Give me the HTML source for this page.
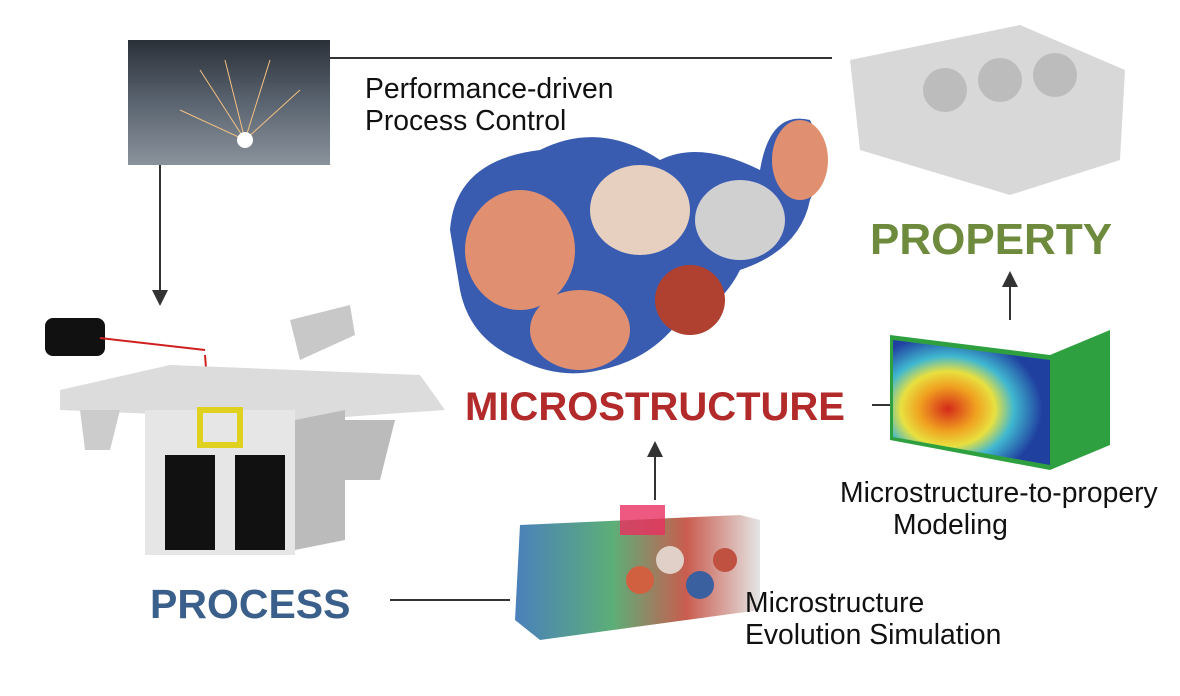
<!DOCTYPE html>
<html><head><meta charset="utf-8"><style>
body{margin:0;width:1180px;height:696px;background:#fff;position:relative;overflow:hidden;font-family:"Liberation Sans",Arial,sans-serif}
.t{position:absolute;font-size:28.3px;color:#111;line-height:32px;white-space:nowrap}
.b{position:absolute;font-weight:bold;font-size:40px;white-space:nowrap}
</style></head><body>
<svg width="1180" height="696" style="position:absolute;left:0;top:0">
<defs>
<linearGradient id="lz" x1="0" y1="0" x2="0" y2="1"><stop offset="0" stop-color="#2a3038"/><stop offset="0.5" stop-color="#5a6470"/><stop offset="1" stop-color="#8a939c"/></linearGradient>
<radialGradient id="heat" cx="0.35" cy="0.55" r="0.6"><stop offset="0" stop-color="#d42a1a"/><stop offset="0.3" stop-color="#f0a020"/><stop offset="0.5" stop-color="#e8e040"/><stop offset="0.7" stop-color="#40b8d0"/><stop offset="1" stop-color="#2040a0"/></radialGradient>
<linearGradient id="sim" x1="0" y1="0" x2="1" y2="0"><stop offset="0" stop-color="#2a6ab0"/><stop offset="0.4" stop-color="#40a060"/><stop offset="0.7" stop-color="#c04030"/><stop offset="1" stop-color="#e0e0e0"/></linearGradient>
</defs>
<rect x="128" y="40" width="202" height="125" fill="url(#lz)"/>
<g stroke="#f4c080" stroke-width="1"><line x1="245" y1="140" x2="200" y2="70"/><line x1="245" y1="140" x2="270" y2="60"/><line x1="245" y1="140" x2="300" y2="90"/><line x1="245" y1="140" x2="225" y2="60"/><line x1="245" y1="140" x2="180" y2="110"/></g>
<circle cx="245" cy="140" r="8" fill="#fff"/>
<line x1="330" y1="58" x2="832" y2="58" stroke="#333" stroke-width="2"/>
<line x1="160" y1="165" x2="160" y2="292" stroke="#333" stroke-width="2"/>
<polygon points="152,290 168,290 160,306" fill="#333"/>
<path d="M850 60 L1020 25 L1125 70 L1120 160 L1010 195 L860 150 Z" fill="#d8d8d8"/>
<circle cx="945" cy="90" r="22" fill="#bcbcbc"/><circle cx="1000" cy="80" r="22" fill="#bcbcbc"/><circle cx="1055" cy="75" r="22" fill="#bcbcbc"/>
<line x1="1010" y1="320" x2="1010" y2="285" stroke="#333" stroke-width="2"/>
<polygon points="1002,287 1018,287 1010,271" fill="#333"/>
<path d="M450 230 Q455 160 540 150 Q600 120 660 160 Q700 140 760 170 Q770 110 810 120 Q830 160 810 200 Q800 250 740 270 Q720 310 680 320 Q650 360 600 370 Q560 380 520 360 Q470 340 460 290 Z" fill="#3a5cb0"/>
<ellipse cx="520" cy="250" rx="55" ry="60" fill="#e09070"/>
<ellipse cx="640" cy="210" rx="50" ry="45" fill="#e8d0c0"/>
<ellipse cx="580" cy="330" rx="50" ry="40" fill="#e09070"/>
<ellipse cx="690" cy="300" rx="35" ry="35" fill="#b04030"/>
<ellipse cx="800" cy="160" rx="28" ry="40" fill="#e09070"/>
<ellipse cx="740" cy="220" rx="45" ry="40" fill="#d0d0d0"/>
<line x1="872" y1="405" x2="905" y2="405" stroke="#333" stroke-width="2"/>
<polygon points="890,335 1050,355 1110,330 1110,445 1050,470 890,440" fill="#2ea040"/>
<path d="M893 340 L1050 360 L1050 465 L893 437 Z" fill="url(#heat)"/>
<line x1="655" y1="500" x2="655" y2="455" stroke="#333" stroke-width="2"/>
<polygon points="647,457 663,457 655,441" fill="#333"/>
<polygon points="520,525 740,515 760,520 760,610 540,640 515,620" fill="url(#sim)" opacity="0.85"/>
<rect x="620" y="505" width="45" height="30" fill="#e83060" opacity="0.8"/>
<circle cx="640" cy="580" r="14" fill="#d06040"/><circle cx="670" cy="560" r="14" fill="#e0d0c8"/><circle cx="700" cy="585" r="14" fill="#3a60a0"/><circle cx="725" cy="560" r="12" fill="#c05040"/>
<line x1="390" y1="600" x2="510" y2="600" stroke="#333" stroke-width="2"/>
<rect x="45" y="318" width="60" height="38" rx="8" fill="#111"/>
<line x1="100" y1="338" x2="205" y2="350" stroke="#d02020" stroke-width="2"/>
<line x1="205" y1="355" x2="210" y2="420" stroke="#d02020" stroke-width="2"/>
<polygon points="60,390 170,365 420,375 445,410 300,420 60,410" fill="#dcdcdc"/>
<polygon points="145,410 295,410 295,555 145,555" fill="#e6e6e6"/>
<rect x="165" y="455" width="50" height="95" fill="#111"/>
<rect x="235" y="455" width="50" height="95" fill="#111"/>
<polygon points="295,420 345,410 345,540 295,550" fill="#bbb"/>
<rect x="200" y="410" width="40" height="35" fill="none" stroke="#e0d020" stroke-width="6"/>
<polygon points="290,320 350,305 355,335 300,360" fill="#c8c8c8"/>
<polygon points="330,420 395,420 380,480 345,480" fill="#bbb"/>
<polygon points="80,410 120,410 110,450 85,450" fill="#ccc"/>
</svg>
<div class="t" style="left:365px;top:72px">Performance-driven<br>Process Control</div>
<div class="b" style="left:870px;top:215px;color:#6e8b3d;font-size:44px">PROPERTY</div>
<div class="b" style="left:465px;top:385px;color:#b22a2a;font-size:40px">MICROSTRUCTURE</div>
<div class="t" style="left:840px;top:476px">Microstructure-to-propery<br><span style="padding-left:53px">Modeling</span></div>
<div class="b" style="left:150px;top:581px;color:#3a5f8a;font-size:41px">PROCESS</div>
<div class="t" style="left:745px;top:586px">Microstructure<br>Evolution Simulation</div>
</body></html>
